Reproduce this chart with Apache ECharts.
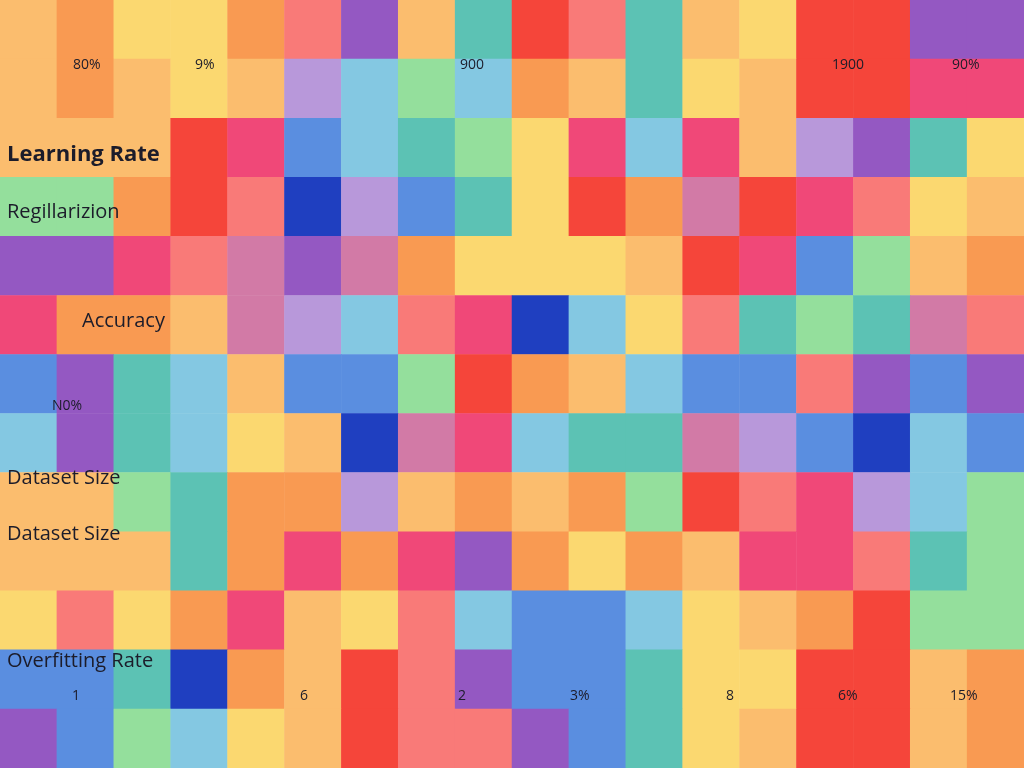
<!DOCTYPE html>
<html><head><meta charset="utf-8">
<script src="https://cdn.jsdelivr.net/npm/echarts@6/dist/echarts.min.js"></script>
<style>html,body{margin:0;padding:0}#c{width:1024px;height:768px}</style>
</head><body><div id="c"></div>
<script>
const palette = ['#f5453a','#f97a78','#f99a52','#fbbd6e','#fbd870','#94df9c','#5cc2b4','#84c8e2','#5a8ee0','#1f3fc0','#9458c2','#f04878','#b898da','#d27aa6'];
const rows = [
[3,2,4,4,2,1,10,3,6,0,1,6,3,4,0,0,10,10],
[3,2,3,4,3,12,7,5,7,2,3,6,4,3,0,0,11,11],
[3,3,3,0,11,8,7,6,5,4,11,7,11,3,12,10,6,4],
[5,5,2,0,1,9,12,8,6,4,0,2,13,0,11,1,4,3],
[10,10,11,1,13,10,13,2,4,4,4,3,0,11,8,5,3,2],
[11,2,2,3,13,12,7,1,11,9,7,4,1,6,5,6,13,1],
[8,10,6,7,3,8,8,5,0,2,3,7,8,8,1,10,8,10],
[7,10,6,7,4,3,9,13,11,7,6,6,13,12,8,9,7,8],
[3,3,5,6,2,2,12,3,2,3,2,5,0,1,11,12,7,5],
[3,3,3,6,2,11,2,11,10,2,4,2,3,11,11,1,6,5],
[4,1,4,2,11,3,4,1,7,8,8,7,4,3,2,0,5,5],
[8,8,6,9,2,3,0,1,10,8,8,6,4,4,0,0,3,2],
[10,8,5,7,4,3,0,1,1,10,8,6,4,3,0,0,3,2]];
const labels = [
['80%',73,66,14,'normal'],['9%',195,66,14,'normal'],['900',460,66,14,'normal'],['1900',832,66,14,'normal'],['90%',952,66,14,'normal'],
['Learning Rate',7,156,22,'bold'],['Regillarizion',7,213,20,'normal'],['Accuracy',82,322,20,'normal'],['N0%',52,407,14,'normal'],
['Dataset Size',7,479,20,'normal'],['Dataset Size',7,535,20,'normal'],['Overfitting Rate',7,662,20,'normal'],
['1',72,697,14,'normal'],['6',300,697,14,'normal'],['2',458,697,14,'normal'],['3%',570,697,14,'normal'],
['8',726,697,14,'normal'],['6%',838,697,14,'normal'],['15%',950,697,14,'normal']];
const data = [];
rows.forEach((r,y)=>r.forEach((v,x)=>data.push([x,y,v])));
const chart = echarts.init(document.getElementById('c'));
chart.setOption({
  animation:false,
  grid:{left:0,right:0,top:0,bottom:0},
  xAxis:{type:'category',data:rows[0].map((_,i)=>i),show:false},
  yAxis:{type:'category',data:rows.map((_,i)=>i),inverse:true,show:false},
  visualMap:{type:'piecewise',show:false,dimension:2,categories:palette.map((_,i)=>i),
    inRange:{color:palette}},
  series:[{type:'heatmap',data:data,itemStyle:{borderWidth:0}}],
  graphic:labels.map(l=>({type:'text',z:100,zlevel:1,left:l[1],top:l[2]-l[3]/2-1,
    style:{text:l[0],fontSize:l[3],fontWeight:l[4],fill:'#1c1c2a',fontFamily:'Open Sans'}}))
});
</script></body></html>
